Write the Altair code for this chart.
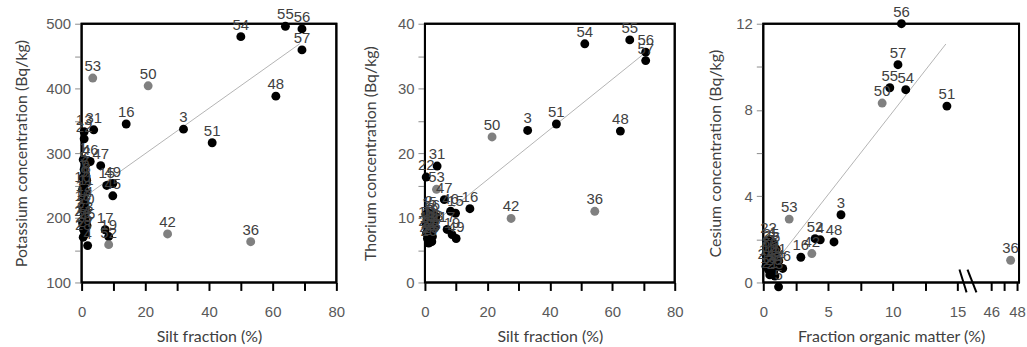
import altair as alt
import pandas as pd

# ---------------- Panel 1: Potassium vs silt fraction ----------------
k_id = [54, 55, 56, 57, 48, 53, 50, 16, 3, 51, 31, 13, 22, 46, 47, 49, 15, 45,
        17, 19, 52, 42, 36, 4,
        1, 2, 5, 6, 7, 8, 9, 10, 11, 12, 14, 18, 20, 21, 23, 24, 25, 26, 27, 28]
k_silt = [50, 64, 69.2, 69.2, 61, 3.5, 20.9, 14, 32, 41, 3.8, 0.8, 0.8, 2.7, 6, 9.8, 7.9, 9.8,
          7.4, 8.5, 8.5, 27, 53.1, 1.9,
          0.5, 1.5, 0.8, 1.2, 0.4, 1.6, 0.9, 0.3, 1.3, 0.7, 1.0, 0.4, 1.5, 0.8, 1.1, 0.3, 1.7, 0.6, 1.2, 0.5]
k_val = [480, 496, 492, 459.5, 388, 416, 404, 345, 337, 316, 336, 333, 322, 287, 280.5, 253, 250, 234,
         181.5, 171, 158.5, 175, 163, 157,
         290, 283, 275, 268, 262, 258, 252, 244, 240, 230, 222, 215, 210, 205, 198, 192, 188, 182, 175, 170]
k_grp = ["b", "b", "b", "b", "b", "g", "g", "b", "b", "b", "b", "b", "b", "b", "b", "b", "b", "b",
         "b", "b", "g", "g", "g", "b"] + ["b"] * 20
k_fit_x = [0.8, 68.5]
k_fit_y = [232, 469]

# ---------------- Panel 2: Thorium vs silt fraction ----------------
th_id = [54, 55, 56, 57, 48, 50, 3, 51, 31, 22, 53, 47, 16, 42, 36, 46, 15, 17, 19, 49,
         1, 2, 5, 6, 7, 8, 9, 10, 11, 12, 13, 14, 18, 20, 21, 23, 24, 25, 26, 27]
th_silt = [51.2, 65.6, 70.7, 70.7, 62.6, 21.5, 32.9, 42.1, 3.9, 0.4, 3.7, 6.2, 14.4, 27.6, 54.4, 8.2, 9.8, 7.1, 8.7, 10,
           0.3, 1.2, 2.5, 3.5, 0.8, 2.0, 3.0, 0.4, 1.5, 2.6, 0.9, 2.0, 3.2, 0.5, 1.4, 2.4, 0.8, 1.8, 1.2, 2.2]
th_val = [36.9, 37.5, 35.6, 34.3, 23.4, 22.5, 23.5, 24.5, 18.0, 16.3, 14.4, 12.8, 11.4, 9.9, 11.0, 11.0, 10.7, 8.2, 7.4, 6.8,
          10.5, 10.8, 10.6, 10.2, 9.9, 9.6, 9.4, 9.1, 8.9, 8.6, 8.3, 8.0, 8.5, 7.6, 7.3, 7.1, 6.8, 6.5, 6.1, 6.3]
th_grp = ["b", "b", "b", "b", "b", "g", "b", "b", "b", "b", "g", "b", "b", "g", "g", "b", "b", "b", "b", "b"] + ["b"] * 20
th_fit_x = [1.0, 69.5]
th_fit_y = [8.5, 35.1]

# ---------------- Panel 3: Cesium vs organic matter ----------------
cs_id = [56, 57, 55, 54, 50, 51, 53, 3, 48, 52, 4, 42, 16, 36, 26, 5,
         22, 1, 2, 6, 7, 8, 9, 10, 11, 12, 13, 14, 18, 20, 21, 23, 24, 25]
cs_om = [10.67, 10.4, 9.77, 11.0, 9.18, 14.18, 2.0, 6.0, 5.46, 4.0, 4.4, 3.75, 2.9, 47.5, 1.5, 1.18,
         0.4, 0.8, 0.3, 1.0, 0.6, 0.2, 0.9, 0.5, 1.2, 0.3, 0.7, 1.0, 0.4, 0.8, 0.5, 0.9, 0.2, 0.6]
cs_val = [12.0, 10.1, 9.03, 8.94, 8.32, 8.18, 2.94, 3.14, 1.88, 2.03, 1.98, 1.34, 1.17, 1.03, 0.65, -0.2,
          1.95, 1.8, 1.6, 1.55, 1.4, 1.3, 1.25, 1.1, 1.0, 0.95, 0.85, 0.7, 0.6, 0.5, 0.35, 0.3, 0.75, 1.7]
cs_grp = ["b", "b", "b", "b", "g", "b", "g", "b", "b", "b", "b", "g", "b", "g", "b", "b"] + ["b"] * 18
cs_fit_x = [1.2, 14.1]
cs_fit_y = [1.15, 11.06]
# axis break marks (in plotted units)
brk_x = [15.15, 15.77]
brk_x2 = [15.7, 16.46]
brk_y = [0.6, 0.6]
brk_y2 = [-0.46, -0.46]

# tick positions / labels
silt_ticks = [0, 10, 20, 30, 40, 50, 60, 70, 80]
k_ticks = [100, 150, 200, 250, 300, 350, 400, 450, 500]
th_ticks = [0, 5, 10, 15, 20, 25, 30, 35, 40]
cs_ticks = [0, 2, 4, 6, 8, 10, 12]
om_ticks = [0, 2.5, 5, 7.5, 10, 12.5, 15, 46, 47, 48]

LABEL_FONT = "Liberation Sans"
TITLE_FONT = "Lato"
GREY = "#595959"
H = 260


def om_pos(v):
    return v if v <= 20 else round(v - 28.4, 2)


def xaxis(values, expr, title):
    return alt.Axis(values=values, labelExpr=expr, title=title, grid=False, domain=False,
                    ticks=True, tickColor="black", tickWidth=2, tickSize=8,
                    labelColor=GREY, labelFont=LABEL_FONT, labelFontSize=15, labelPadding=14,
                    titleFont=TITLE_FONT, titleFontSize=16, titleFontWeight="normal",
                    titleColor="#404040", titlePadding=9, labelFlush=False)


def yaxis(values, expr, title, tp):
    return alt.Axis(values=values, labelExpr=expr, title=title, grid=False, domain=False,
                    ticks=True, tickColor="#8c8c8c", tickWidth=1, tickSize=7,
                    labelColor=GREY, labelFont=LABEL_FONT, labelFontSize=15, labelPadding=4,
                    titleFont=TITLE_FONT, titleFontSize=16, titleFontWeight="normal",
                    titleColor="#404040", titlePadding=tp, labelFlush=False)


color = alt.Color("grp:N", scale=alt.Scale(domain=["b", "g"], range=["#000000", "#808080"]), legend=None)


def panel(df, fit, xdom, ydom, xax, yax, width, extra=None):
    X = alt.X("x:Q", scale=alt.Scale(domain=xdom, nice=False, zero=False), axis=xax)
    Y = alt.Y("y:Q", scale=alt.Scale(domain=ydom, nice=False, zero=False), axis=yax)
    x0, x1 = xdom
    y0, y1 = ydom
    # plot frame as a closed polyline
    frame_df = pd.DataFrame({"x": [x0, x1, x1, x0, x0], "y": [y0, y0, y1, y1, y0],
                             "o": [0, 1, 2, 3, 4]})
    line = alt.Chart(fit).mark_line(color="#b3b3b3", strokeWidth=1).encode(x=X, y=Y)
    frame = alt.Chart(frame_df).mark_line(color="black", strokeWidth=2, strokeCap="square").encode(
        x=X, y=Y, order="o:Q")
    pts = alt.Chart(df).mark_circle(size=80, opacity=1).encode(x=X, y=Y, color=color)
    txt = alt.Chart(df).mark_text(font=LABEL_FONT, fontSize=15, color="#404040", dy=-12,
                                  baseline="middle").encode(x=X, y=Y, text="id:N")
    layers = [line, frame, pts, txt]
    if extra is not None:
        layers.append(extra.encode(x=X, y=Y))
    return alt.layer(*layers).properties(width=width, height=H)


# data frames
df_k = pd.DataFrame({"id": k_id, "x": k_silt, "y": k_val, "grp": k_grp})
fit_k = pd.DataFrame({"x": k_fit_x, "y": k_fit_y})
df_th = pd.DataFrame({"id": th_id, "x": th_silt, "y": th_val, "grp": th_grp})
fit_th = pd.DataFrame({"x": th_fit_x, "y": th_fit_y})
df_cs = pd.DataFrame({"id": cs_id, "x": [om_pos(v) for v in cs_om], "y": cs_val, "grp": cs_grp})
fit_cs = pd.DataFrame({"x": [om_pos(v) for v in cs_fit_x], "y": cs_fit_y})
df_brk = pd.DataFrame({"x": brk_x, "x2": brk_x2, "y": brk_y, "y2": brk_y2})

silt_expr = "datum.value % 20 == 0 ? format(datum.value, 'd') : ''"

p1 = panel(df_k, fit_k, [0, 80], [100, 500],
           xaxis(silt_ticks, silt_expr, "Silt fraction (%)"),
           yaxis(k_ticks, "datum.value % 100 == 0 ? format(datum.value, 'd') : ''",
                 "Potassium concentration (Bq/kg)", 16), 256)

p2 = panel(df_th, fit_th, [0, 80], [0, 40],
           xaxis(silt_ticks, silt_expr, "Silt fraction (%)"),
           yaxis(th_ticks, "datum.value % 10 == 0 ? format(datum.value, 'd') : ''",
                 "Thorium concentration (Bq/kg)", 19), 251)

om_pos_ticks = [om_pos(v) for v in om_ticks]
om_expr = ("abs(datum.value - 17.6) < 0.05 ? '46' : abs(datum.value - 19.6) < 0.05 ? '48' : "
           "(abs(datum.value - 18.6) < 0.05 ? '' : (datum.value % 5 == 0 ? format(datum.value, 'd') : ''))")
brk = alt.Chart(df_brk).mark_rule(color="black", strokeWidth=2).encode(x2="x2:Q", y2="y2:Q")

p3 = panel(df_cs, fit_cs, [0, 19.75], [0, 12],
           xaxis(om_pos_ticks, om_expr, "Fraction organic matter (%)"),
           yaxis(cs_ticks, "datum.value % 4 == 0 ? format(datum.value, 'd') : ''",
                 "Cesium concentration (Bq/kg)", 12), 257, extra=brk)

chart = alt.hconcat(p1, p2, p3, spacing=89, bounds="flush").properties(
    padding={"left": 12, "top": 3, "right": 0, "bottom": 0},
    background="white"
).configure_view(stroke="black", strokeWidth=2)

chart.save("out.html", embed_options={"renderer": "svg", "actions": False})
